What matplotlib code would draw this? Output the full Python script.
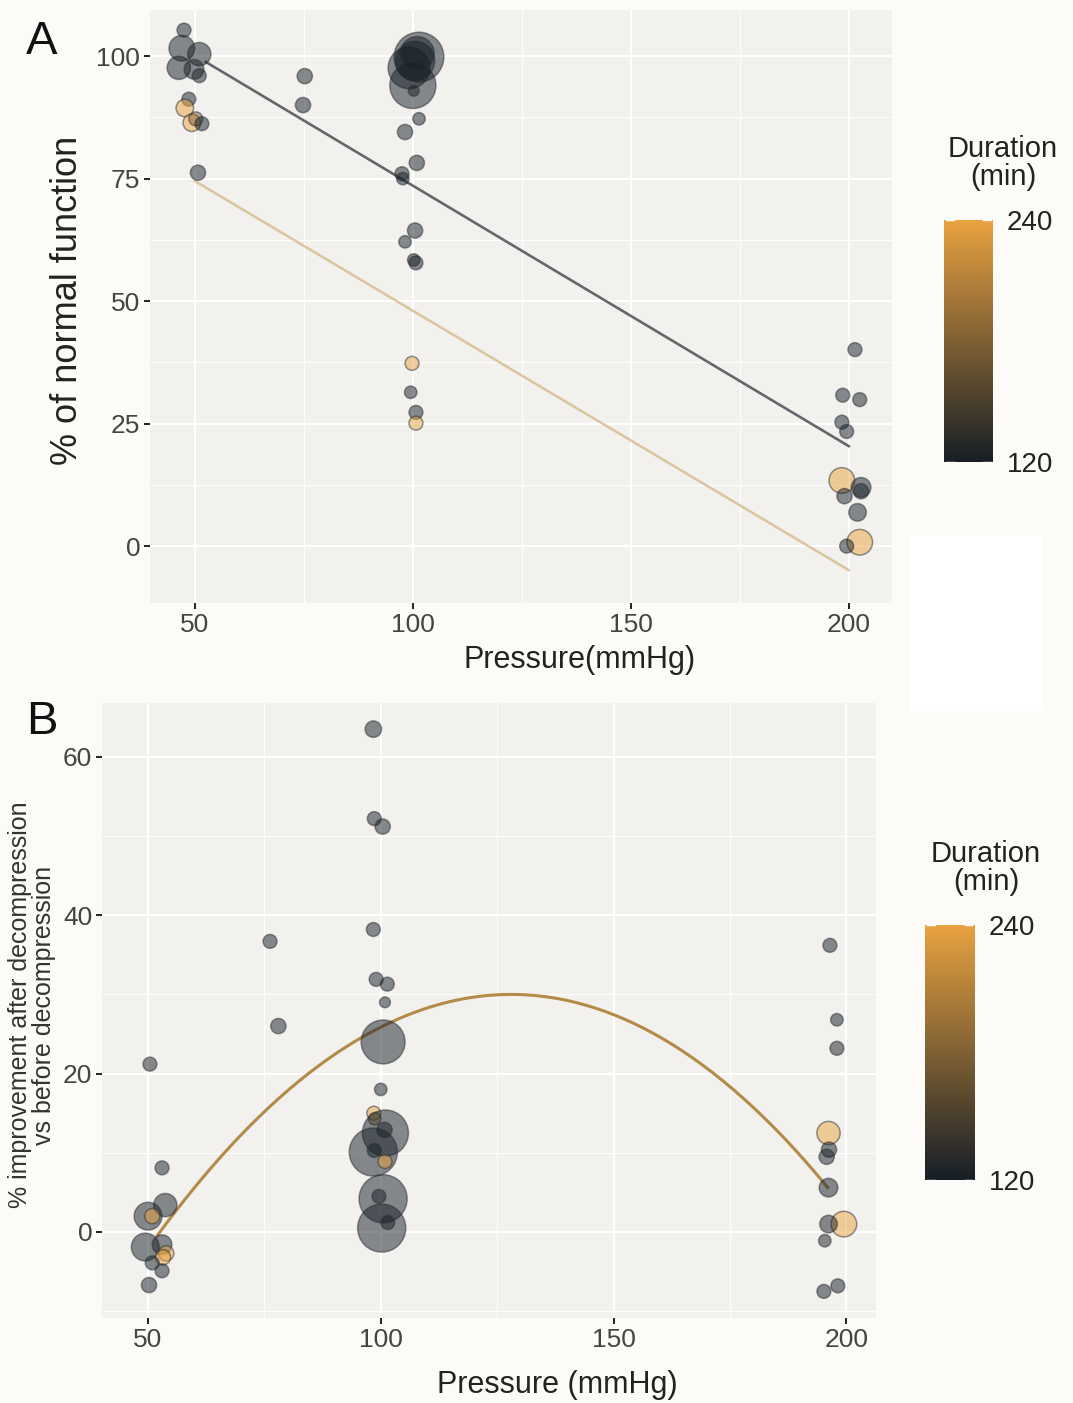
"""Compression pressure vs. outcome, coloured by duration and sized by n."""

import matplotlib.pyplot as plt
import numpy as np
from matplotlib.colors import LinearSegmentedColormap, Normalize
from matplotlib.cm import ScalarMappable
from matplotlib.patches import Rectangle

plt.rcParams["font.family"] = ["Liberation Sans", "DejaVu Sans"]

# Panel A: % of normal function
a_pressure = [47.5, 47.0, 51.0, 46.3, 49.8, 51.0, 48.6, 47.7, 49.3, 50.2, 51.6, 50.7,
              75.2, 74.8,
              101.4, 99.1, 100.5, 100.0, 101.0, 100.2, 101.4, 98.2, 100.9, 97.5, 97.7,
              100.5, 98.2, 100.7, 100.2, 99.8, 99.5, 100.7, 100.7,
              201.4, 198.6, 202.5, 198.4, 199.5, 198.4, 202.8, 202.8, 199.0, 202.0,
              202.5, 199.5]
a_function = [105.3, 101.6, 100.4, 97.6, 97.3, 96.0, 91.2, 89.4, 86.4, 87.2, 86.2, 76.2,
              95.9, 90.0,
              99.8, 97.6, 99.0, 94.0, 100.5, 92.9, 87.2, 84.5, 78.2, 76.0, 75.0,
              64.4, 62.1, 57.8, 58.4, 37.3, 31.4, 27.3, 25.1,
              40.1, 30.8, 29.9, 25.3, 23.4, 13.4, 12.0, 11.2, 10.2, 6.9,
              0.8, 0.0]
a_duration = [120, 120, 120, 120, 120, 120, 120, 240, 240, 180, 120, 120,
              120, 120,
              120, 120, 120, 120, 120, 120, 120, 120, 120, 120, 120,
              120, 120, 120, 120, 240, 120, 120, 240,
              120, 120, 120, 120, 120, 240, 120, 120, 120, 120,
              240, 120]
a_n = [5, 17, 14, 14, 10, 5, 5, 8, 8, 5, 5, 6,
       6, 6,
       64, 45, 40, 55, 30, 3, 4, 6, 6, 5, 4,
       6, 4, 5, 4, 5, 4, 5, 5,
       5, 5, 5, 5, 5, 17, 10, 6, 6, 8,
       17, 5]

# linear fits per duration group
a_fit120_x = [52.5, 200.0]
a_fit120_y = [98.8, 20.4]
a_fit240_x = [50.0, 200.0]
a_fit240_y = [74.5, -4.9]

# Panel B: % improvement after decompression
b_pressure = [50.4, 53.0, 53.7, 50.0, 50.9, 49.4, 53.0, 53.9, 53.2, 50.9, 53.0, 50.2,
              76.2, 78.0,
              98.4, 98.6, 100.4, 98.4, 99.0, 101.4, 100.9, 100.5, 100.0, 98.5, 98.7,
              101.0, 100.8, 98.4, 98.6, 100.9, 100.5, 99.6, 100.2, 101.5,
              196.5, 198.0, 198.0, 196.2, 196.3, 195.8, 196.2, 199.5, 196.2, 195.4,
              198.2, 195.2]
b_improvement = [21.2, 8.1, 3.4, 2.0, 2.0, -1.9, -1.6, -2.7, -3.2, -3.9, -4.9, -6.7,
                 36.7, 26.0,
                 63.5, 52.2, 51.2, 38.2, 31.9, 31.3, 29.0, 24.0, 18.0, 15.0, 14.3,
                 12.5, 12.9, 10.1, 10.3, 8.9, 4.2, 4.5, 0.5, 1.2,
                 36.2, 26.8, 23.2, 12.5, 10.4, 9.5, 5.6, 1.0, 1.0, -1.1,
                 -6.8, -7.5]
b_duration = [120, 120, 120, 120, 240, 120, 120, 240, 240, 120, 120, 120,
              120, 120,
              120, 120, 120, 120, 120, 120, 120, 120, 120, 240, 190,
              120, 120, 120, 120, 240, 120, 120, 120, 120,
              120, 120, 120, 240, 120, 120, 120, 240, 120, 120,
              120, 120]
b_n = [5, 5, 14, 20, 6, 20, 10, 6, 6, 5, 5, 6,
       5, 6,
       7, 5, 6, 5, 5, 5, 3, 50, 4, 5, 4,
       55, 6, 60, 5, 5, 60, 5, 60, 5,
       5, 4, 5, 14, 6, 6, 9, 17, 8, 4,
       5, 5]

# quadratic fit (vertex form) and its x range
b_fit_peak = (128.0, 30.0)
b_fit_curv = -0.00527
b_fit_range = (52.0, 196.0)

PANEL_BG = "#f3f1ee"
FIG_BG = "#fdfbf8"
cmap = LinearSegmentedColormap.from_list("duration", ["#161e26", "#e8a240"])
norm = Normalize(120, 240)


def style_axes(ax, xmajor, ymajor, yminor):
    ax.set_facecolor(PANEL_BG)
    for s in ax.spines.values():
        s.set_visible(False)
    ax.set_xticks(xmajor)
    ax.set_yticks(ymajor)
    ax.set_xticks([75, 125, 175], minor=True)
    ax.set_yticks(yminor, minor=True)
    ax.grid(which="major", color="white", lw=1.5)
    ax.grid(which="minor", color="white", lw=0.7)
    ax.set_axisbelow(True)
    ax.tick_params(which="major", length=4, width=1.4, color="#222222",
                   labelsize=19, labelcolor="#444444", pad=3)
    ax.tick_params(which="minor", length=0)


def scatter(ax, x, y, dur, n):
    cols = cmap(norm(np.asarray(dur)))
    ax.scatter(x, y, s=np.asarray(n) * 20, c=cols, edgecolors="#2a2e32",
               linewidths=1.1, alpha=0.5, zorder=3)


def colorbar(fig, rect, title_xy):
    cax = fig.add_axes(rect)
    cb = fig.colorbar(ScalarMappable(norm=norm, cmap=cmap), cax=cax, ticks=[120, 240])
    cb.outline.set_visible(False)
    cax.tick_params(length=0, labelsize=20, pad=10, labelcolor="#222222")
    for v in (120, 240):
        cax.axhline(v, xmin=0.05, xmax=0.2, color="white", lw=1)
        cax.axhline(v, xmin=0.8, xmax=0.95, color="white", lw=1)
    fig.text(*title_xy, "Duration\n(min)", ha="center", va="top", fontsize=21,
             color="#222222", linespacing=1.0)


fig = plt.figure(figsize=(10.73, 14.03), dpi=100, facecolor=FIG_BG)
W, H = 1073, 1403

# faint white block beside panel A
fig.patches.append(Rectangle((910 / W, 1 - 710 / H), 132 / W, 175 / H,
                             transform=fig.transFigure, color="#fffffe", zorder=0))

# --- Panel A ---
ax1 = fig.add_axes([150 / W, 1 - 603 / H, 742 / W, 593 / H])
style_axes(ax1, [50, 100, 150, 200], [0, 25, 50, 75, 100], [12.5, 37.5, 62.5, 87.5])
ax1.set_xlim(39.7, 209.9)
ax1.set_ylim(-11.6, 109.4)
ax1.plot(a_fit120_x, a_fit120_y, color=cmap(norm(120)), alpha=0.65, lw=1.9, zorder=2)
ax1.plot(a_fit240_x, a_fit240_y, color="#c99f5a", alpha=0.55, lw=1.8, zorder=2)
scatter(ax1, a_pressure, a_function, a_duration, a_n)

fig.text(42 / W, 1 - 42 / H, "A", fontsize=34, ha="center", va="center", color="#111111")
fig.text(68 / W, 1 - 300 / H, "% of normal function", rotation=90, fontsize=26,
         ha="center", va="center", color="#222222")
fig.text(580 / W, 1 - 660 / H, "Pressure(mmHg)", fontsize=22, ha="center",
         va="center", color="#222222")
colorbar(fig, [944 / W, 1 - 462 / H, 49 / W, 242 / H], (1003 / W, 1 - 135 / H))

# --- Panel B ---
ax2 = fig.add_axes([102 / W, 1 - 1318 / H, 774 / W, 615 / H])
style_axes(ax2, [50, 100, 150, 200], [0, 20, 40, 60], [-10, 10, 30, 50])
ax2.set_xlim(40.1, 206.4)
ax2.set_ylim(-10.86, 66.8)
px, py = b_fit_peak
xs = np.linspace(*b_fit_range, 200)
ax2.plot(xs, py + b_fit_curv * (xs - px) ** 2, color="#b48a48", lw=2.2, zorder=2)
scatter(ax2, b_pressure, b_improvement, b_duration, b_n)

fig.text(42 / W, 1 - 722 / H, "B", fontsize=34, ha="center", va="center", color="#111111")
fig.text(32 / W, 1 - 1005 / H, "% improvement after decompression\nvs before decompression",
         rotation=90, fontsize=18, ha="center", va="center", color="#333333",
         linespacing=0.95)
fig.text(557 / W, 1 - 1385 / H, "Pressure (mmHg)", fontsize=22, ha="center",
         va="center", color="#222222")
colorbar(fig, [925 / W, 1 - 1180 / H, 50 / W, 255 / H], (986 / W, 1 - 840 / H))

fig.savefig("out.png", dpi=100, facecolor=FIG_BG)
